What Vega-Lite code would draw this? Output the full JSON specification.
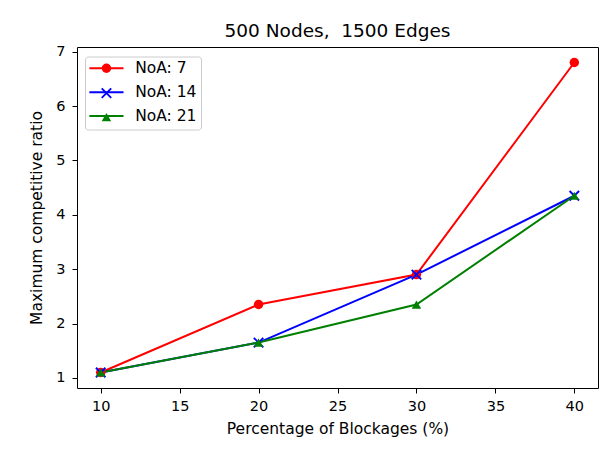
{
  "$schema": "https://vega.github.io/schema/vega-lite/v6.json",
  "width": 521,
  "height": 341,
  "autosize": {"type": "none"},
  "padding": {"left": 77, "top": 47, "right": 14, "bottom": 65},
  "background": "white",
  "title": {"text": "500 Nodes,\u00a0 1500 Edges", "fontSize": 18.5, "font": "DejaVu Sans", "fontWeight": "normal", "offset": 3, "color": "black"},
  "data": {"values": [
    {"pct": 10, "ratio": 1.1, "series": "NoA: 7", "noa": 7},
    {"pct": 20, "ratio": 2.35, "series": "NoA: 7", "noa": 7},
    {"pct": 30, "ratio": 2.9, "series": "NoA: 7", "noa": 7},
    {"pct": 40, "ratio": 6.8, "series": "NoA: 7", "noa": 7},
    {"pct": 10, "ratio": 1.1, "series": "NoA: 14", "noa": 14},
    {"pct": 20, "ratio": 1.65, "series": "NoA: 14", "noa": 14},
    {"pct": 30, "ratio": 2.9, "series": "NoA: 14", "noa": 14},
    {"pct": 40, "ratio": 4.35, "series": "NoA: 14", "noa": 14},
    {"pct": 10, "ratio": 1.1, "series": "NoA: 21", "noa": 21},
    {"pct": 20, "ratio": 1.65, "series": "NoA: 21", "noa": 21},
    {"pct": 30, "ratio": 2.35, "series": "NoA: 21", "noa": 21},
    {"pct": 40, "ratio": 4.35, "series": "NoA: 21", "noa": 21}
  ]},
  "config": {
    "font": "DejaVu Sans",
    "view": {"stroke": "black", "strokeWidth": 1},
    "axis": {"grid": false, "domain": false, "tickColor": "black", "tickSize": 5, "labelColor": "black", "labelFontSize": 14.5, "labelFont": "DejaVu Sans", "titleFont": "DejaVu Sans", "titleFontSize": 15.5, "titleFontWeight": "normal", "titleColor": "black"},
    "legend": {"labelFont": "DejaVu Sans", "labelFontSize": 15.5, "labelColor": "black"}
  },
  "encoding": {
    "x": {"field": "pct", "type": "quantitative", "scale": {"domain": [8.5, 41.5], "nice": false, "zero": false}, "axis": {"values": [10, 15, 20, 25, 30, 35, 40], "title": "Percentage of Blockages (%)", "labelPadding": 6, "titlePadding": 9}},
    "y": {"field": "ratio", "type": "quantitative", "scale": {"domain": [0.815, 7.085], "nice": false, "zero": false}, "axis": {"values": [1, 2, 3, 4, 5, 6, 7], "title": "Maximum competitive ratio", "labelPadding": 7, "titlePadding": 11}}
  },
  "layer": [
    {
      "mark": {"type": "line", "strokeWidth": 2},
      "encoding": {
        "stroke": {"field": "series", "type": "nominal", "scale": {"domain": ["NoA: 7", "NoA: 14", "NoA: 21"], "range": ["#ff0000", "#0000ff", "#008000"]},
          "legend": {"orient": "none", "legendX": 8, "legendY": 9.5, "title": null, "symbolType": "M-3.6,0H3.6", "symbolSize": 90, "symbolStrokeWidth": 2, "symbolOffset": 9.7, "fillColor": "white", "strokeColor": "#cccccc", "cornerRadius": 3, "padding": 4, "rowPadding": 6.9, "labelOffset": 21}}
      }
    },
    {
      "mark": {"type": "point", "filled": true, "opacity": 1},
      "encoding": {
        "fill": {"field": "noa", "type": "nominal", "scale": {"domain": [7, 14, 21], "range": ["#ff0000", "#0000ff", "#008000"]},
          "legend": {"orient": "none", "legendX": 8, "legendY": 9.5, "title": null, "symbolSize": 90, "symbolOffset": 9.7, "labelExpr": "' '", "labelOpacity": 0, "padding": 4, "rowPadding": 6.9}},
        "shape": {"field": "noa", "type": "nominal", "scale": {"domain": [7, 14, 21], "range": ["circle", "M-0.86,-1.14L1.14,0.86L0.86,1.14L-1.14,-0.86ZM-0.86,1.14L-1.14,0.86L0.86,-1.14L1.14,-0.86Z", "triangle-up"]}},
        "size": {"value": 90}
      }
    }
  ]
}
